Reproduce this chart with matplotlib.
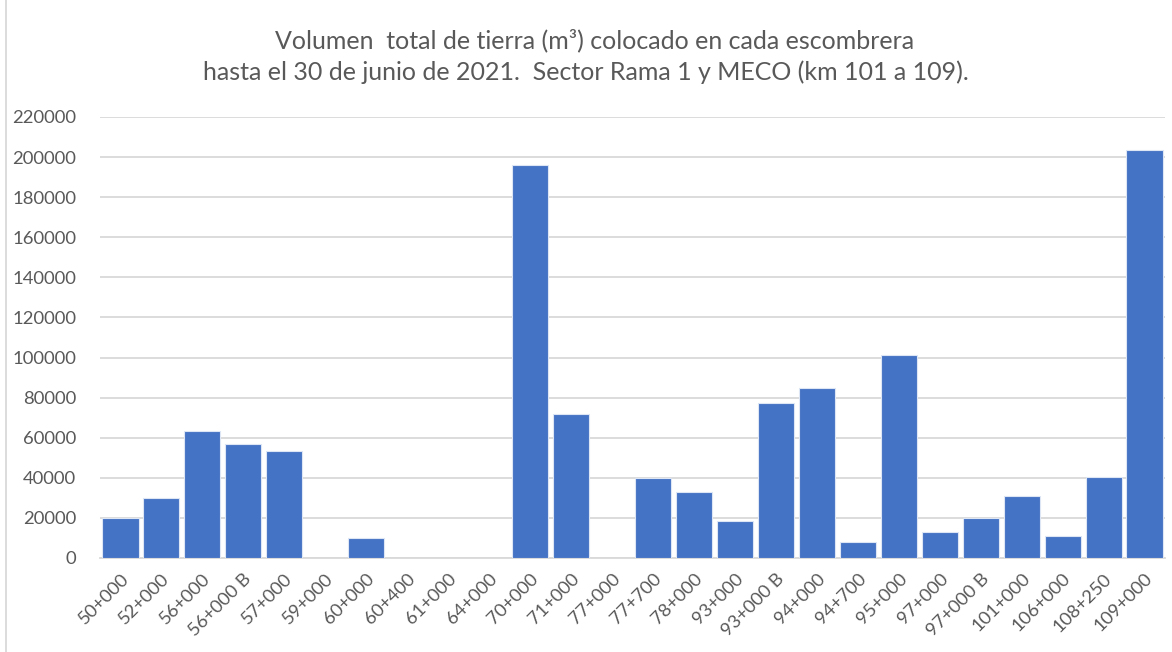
import matplotlib.pyplot as plt
from matplotlib.lines import Line2D

# datos
escombreras = ['50+000', '52+000', '56+000', '56+000 B', '57+000', '59+000', '60+000',
               '60+400', '61+000', '64+000', '70+000', '71+000', '77+000', '77+700',
               '78+000', '93+000', '93+000 B', '94+000', '94+700', '95+000', '97+000',
               '97+000 B', '101+000', '106+000', '108+250', '109+000']
volumen = [20000, 30000, 63500, 56700, 53300, 0, 10000,
           0, 0, 0, 196000, 72000, 0, 40000,
           33000, 18300, 77500, 85000, 7800, 101500, 13000,
           20000, 31000, 11000, 40500, 203500]
ticks_y = list(range(0, 220001, 20000))

plt.rcParams['font.family'] = ['Lato', 'DejaVu Sans']

W, H = 1172, 652
fig = plt.figure(figsize=(W / 100, H / 100), dpi=100)
ax = fig.add_axes([100 / W, 1 - 558 / H, 1065 / W, 441 / H])

x = range(len(escombreras))
ax.bar(x, volumen, width=0.88, color='#4472c4', edgecolor='#dce6f5', linewidth=0.8, zorder=3)

ax.set_xlim(-0.5, len(escombreras) - 0.5)
ax.set_ylim(0, 220000)
ax.set_yticks(ticks_y)
ax.set_yticklabels([str(v) for v in ticks_y], fontsize=13.3, color='#595959')
ax.set_xticks(list(x))
ax.set_xticklabels(escombreras, rotation=45, ha='right', rotation_mode='anchor',
                   fontsize=13.3, color='#595959')
ax.tick_params(axis='x', length=0, pad=9)
ax.tick_params(axis='y', length=0, pad=17)

ax.grid(axis='y', color='#d9d9d9', linewidth=1.3, zorder=0)
for s in ['top', 'right', 'left']:
    ax.spines[s].set_visible(False)
ax.spines['bottom'].set_color('#d9d9d9')
ax.spines['bottom'].set_linewidth(1.3)

fig.text(595 / W, 1 - 40 / H, 'Volumen  total de tierra (m³) colocado en cada escombrera',
         ha='center', va='center', fontsize=18, color='#595959')
fig.text(586 / W, 1 - 72 / H, 'hasta el 30 de junio de 2021.  Sector Rama 1 y MECO (km 101 a 109).',
         ha='center', va='center', fontsize=18, color='#595959')

# borde del area del grafico
fig.add_artist(Line2D([6 / W, 6 / W], [0, 1], color='#d9d9d9', linewidth=1.3))

fig.savefig('out.png', dpi=100)
